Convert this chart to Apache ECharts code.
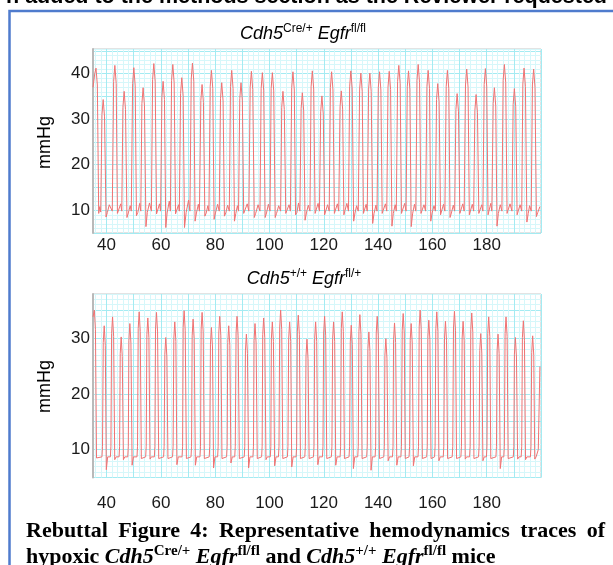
<!DOCTYPE html>
<html>
<head>
<meta charset="utf-8">
<title>hemodynamics traces</title>
<script src="https://cdn.jsdelivr.net/npm/echarts@6/dist/echarts.min.js"></script>
<style>
  html, body { margin: 0; padding: 0; background: #fff; }
  #chart { width: 613px; height: 565px; }
</style>
</head>
<body>
<div id="chart"></div>
<script>
// [time, mmHg]
var topTrace = [
  [35.0,37.0],[35.65,40.0],[36.1,41.2],[36.6,37.5],[37.1,9.3],[37.5,10.8],[37.85,9.6],
  [38.3,31.0],[38.75,34.3],[39.25,30.5],[39.8,8.5],[40.3,9.5],[41.0,11.2],[42.1,9.8],
  [42.6,38.3],[43.05,41.8],[43.55,37.8],[44.0,9.3],[44.5,9.5],[45.2,11.4],[45.6,9.8],
  [46.02,32.6],[46.47,36.1],[46.97,32.1],[47.5,8.4],[48.0,9.4],[48.7,11.0],[49.1,9.8],
  [49.59,37.8],[50.04,41.3],[50.54,37.3],[51.0,8.8],[51.5,9.5],[52.2,11.5],[52.6,9.8],
  [53.01,33.4],[53.46,36.9],[53.96,32.9],[54.5,6.4],[55.0,9.5],[55.8,11.6],[56.5,9.8],
  [56.95,38.7],[57.4,42.2],[57.9,38.2],[58.4,9.2],[58.9,9.5],[59.5,11.4],[59.9,9.8],
  [60.37,34.8],[60.82,38.3],[61.32,34.3],[61.8,6.2],[62.3,9.4],[63.1,12.0],[63.5,9.8],
  [63.94,38.5],[64.39,42.0],[64.89,38.0],[65.4,9.2],[65.9,9.4],[66.5,11.2],[66.8,9.8],
  [67.25,35.6],[67.7,39.1],[68.2,35.1],[68.7,6.2],[69.3,9.5],[70.2,12.2],[70.7,9.8],
  [71.18,38.8],[71.63,42.3],[72.13,38.3],[72.6,7.6],[73.1,9.4],[73.8,11.3],[74.2,9.8],
  [74.72,34.1],[75.17,37.6],[75.67,33.6],[76.2,8.7],[76.7,9.4],[77.3,11.0],[77.7,9.8],
  [78.17,37.2],[78.62,40.7],[79.12,36.7],[79.6,8.0],[80.1,9.4],[80.9,11.3],[81.5,9.8],
  [81.96,34.5],[82.41,38.0],[82.91,34.0],[83.4,8.7],[83.9,9.4],[84.6,11.1],[85.2,9.8],
  [85.64,37.2],[86.09,40.7],[86.59,36.7],[87.1,7.6],[87.6,9.3],[88.2,11.0],[88.6,9.8],
  [89.06,34.5],[89.51,38.0],[90.01,34.0],[90.5,9.3],[91.0,9.5],[91.8,11.4],[92.4,9.8],
  [92.89,37.0],[93.34,40.5],[93.84,36.5],[94.4,8.4],[94.9,9.3],[95.8,11.2],[96.5,9.8],
  [96.93,36.7],[97.38,40.2],[97.88,36.2],[98.4,8.4],[98.9,9.4],[99.6,11.3],[100.2,9.8],
  [100.61,36.7],[101.06,40.2],[101.56,36.2],[102.1,8.4],[102.6,9.3],[103.4,11.0],[104.1,9.8],
  [104.51,32.6],[104.96,36.1],[105.46,32.1],[106.0,9.3],[106.5,9.5],[107.2,11.2],[107.7,9.8],
  [108.19,36.9],[108.64,40.4],[109.14,36.4],[109.6,9.0],[110.1,9.5],[110.7,11.6],[111.2,9.8],
  [111.65,32.3],[112.1,35.8],[112.6,31.8],[113.1,7.8],[113.6,9.4],[114.3,11.1],[114.9,9.8],
  [115.33,37.1],[115.78,40.6],[116.28,36.6],[116.8,9.3],[117.3,9.5],[117.9,11.5],[118.4,9.8],
  [118.86,31.6],[119.31,35.1],[119.81,31.1],[120.3,9.0],[120.8,9.4],[121.4,11.2],[122.0,9.8],
  [122.43,36.9],[122.88,40.4],[123.38,36.4],[123.9,9.3],[124.4,9.5],[125.0,11.4],[125.5,9.8],
  [125.99,32.7],[126.44,36.2],[126.94,32.2],[127.4,9.0],[127.9,9.4],[128.5,11.5],[129.1,9.8],
  [129.52,37.1],[129.97,40.6],[130.47,36.6],[131.0,7.6],[131.5,9.4],[132.1,11.0],[132.7,9.8],
  [133.2,36.6],[133.65,40.1],[134.15,36.1],[134.6,9.3],[135.1,9.5],[135.6,11.3],[136.0,9.8],
  [136.51,36.6],[136.96,40.1],[137.46,36.1],[138.0,7.1],[138.5,9.3],[139.2,11.1],[139.6,9.8],
  [140.08,36.9],[140.53,40.4],[141.03,36.4],[141.5,9.3],[142.0,9.5],[142.7,11.4],[143.2,9.8],
  [143.65,37.0],[144.1,40.5],[144.6,36.5],[145.1,6.5],[145.6,9.3],[146.3,11.2],[146.7,9.8],
  [147.18,38.3],[147.63,41.8],[148.13,37.8],[148.6,9.3],[149.1,9.5],[149.8,11.5],[150.3,9.8],
  [150.75,37.1],[151.2,40.6],[151.7,36.6],[152.2,6.4],[152.7,9.2],[153.4,11.3],[153.9,9.8],
  [154.32,38.5],[154.77,42.0],[155.27,38.0],[155.8,9.3],[156.3,9.5],[156.9,11.2],[157.5,9.8],
  [157.99,37.2],[158.44,40.7],[158.94,36.7],[159.4,7.6],[159.9,9.4],[160.6,11.0],[161.1,9.8],
  [161.52,34.3],[161.97,37.8],[162.47,33.8],[163.0,9.0],[163.5,9.4],[164.1,11.3],[164.6,9.8],
  [165.09,37.2],[165.54,40.7],[166.04,36.7],[166.5,8.4],[167.0,9.4],[167.7,11.1],[168.2,9.8],
  [168.66,32.1],[169.11,35.6],[169.61,31.6],[170.1,9.3],[170.6,9.5],[171.2,11.4],[171.7,9.8],
  [172.19,37.5],[172.64,41.0],[173.14,37.0],[173.6,9.0],[174.1,9.4],[174.7,11.3],[175.2,9.8],
  [175.65,31.9],[176.1,35.4],[176.6,31.4],[177.1,9.3],[177.6,9.5],[178.2,11.2],[178.6,9.8],
  [179.07,37.6],[179.52,41.1],[180.02,37.1],[180.5,9.0],[181.0,9.4],[181.5,11.5],[181.9,9.8],
  [182.38,33.4],[182.83,36.9],[183.33,32.9],[183.8,6.5],[184.3,9.3],[185.0,11.2],[185.6,9.8],
  [186.06,38.5],[186.51,42.0],[187.01,38.0],[187.5,9.3],[188.0,9.5],[188.6,11.4],[189.3,9.8],
  [189.74,33.2],[190.19,36.7],[190.69,32.7],[191.2,9.0],[191.7,9.4],[192.3,11.2],[192.9,9.8],
  [193.31,37.7],[193.76,41.2],[194.26,37.2],[194.8,7.4],[195.3,9.3],[195.8,11.0],[196.4,9.8],
  [196.84,37.5],[197.29,41.0],[197.79,37.0],[198.3,8.6],[198.8,9.5],[199.6,10.8]
];

var bottomTrace = [
  [35.0,33.8],[35.5,35.0],[35.9,31.5],[36.3,8.5],[36.8,8.7],[38.3,8.7],[38.5,10.6],
  [38.78,29.2],[39.13,32.2],[39.53,28.7],[39.9,6.4],[40.4,8.7],[41.4,8.7],[41.6,10.6],
  [41.85,30.8],[42.2,33.8],[42.6,30.3],[43.0,8.2],[43.5,8.7],[44.6,8.7],[44.8,10.6],
  [45.03,27.2],[45.38,30.2],[45.78,26.7],[46.2,8.2],[46.7,8.7],[47.8,8.7],[48.0,10.6],
  [48.22,29.6],[48.57,32.6],[48.97,29.1],[49.4,7.2],[49.9,8.7],[51.2,8.7],[51.4,10.6],
  [51.65,31.7],[52.0,34.7],[52.4,31.2],[52.8,8.4],[53.3,8.7],[54.4,8.7],[54.6,10.6],
  [54.84,30.6],[55.19,33.6],[55.59,30.1],[56.0,8.3],[56.5,8.7],[57.6,8.7],[57.8,10.6],
  [58.03,31.6],[58.38,34.6],[58.78,31.1],[59.2,8.4],[59.7,8.7],[61.0,8.7],[61.2,10.6],
  [61.46,27.1],[61.81,30.1],[62.21,26.6],[62.6,8.4],[63.1,8.7],[64.3,8.7],[64.5,10.6],
  [64.77,29.9],[65.12,32.9],[65.52,29.4],[65.9,7.3],[66.4,8.7],[67.8,8.7],[68.0,10.6],
  [68.21,31.9],[68.56,34.9],[68.96,31.4],[69.4,8.4],[69.9,8.7],[71.1,8.7],[71.3,10.6],
  [71.52,30.4],[71.87,33.4],[72.27,29.9],[72.7,7.2],[73.2,8.7],[74.4,8.7],[74.6,10.6],
  [74.83,31.6],[75.18,34.6],[75.58,31.1],[76.0,8.4],[76.5,8.7],[77.8,8.7],[78.0,10.6],
  [78.26,28.9],[78.61,31.9],[79.01,28.4],[79.4,6.7],[79.9,8.7],[80.9,8.7],[81.1,10.6],
  [81.33,30.9],[81.68,33.9],[82.08,30.4],[82.5,8.4],[83.0,8.7],[84.2,8.7],[84.4,10.6],
  [84.64,29.2],[84.99,32.2],[85.39,28.7],[85.8,7.6],[86.3,8.7],[87.2,8.7],[87.4,10.6],
  [87.7,30.9],[88.05,33.9],[88.45,30.4],[88.9,8.4],[89.4,8.7],[90.7,8.7],[90.9,10.6],
  [91.14,27.7],[91.49,30.7],[91.89,27.2],[92.3,6.7],[92.8,8.7],[93.9,8.7],[94.1,10.6],
  [94.32,29.6],[94.67,32.6],[95.07,29.1],[95.5,8.4],[96.0,8.7],[97.1,8.7],[97.3,10.6],
  [97.51,30.6],[97.86,33.6],[98.26,30.1],[98.7,8.2],[99.2,8.7],[100.3,8.7],[100.5,10.6],
  [100.7,29.9],[101.05,32.9],[101.45,29.4],[101.9,7.1],[102.4,8.7],[103.3,8.7],[103.5,10.6],
  [103.76,32.0],[104.11,35.0],[104.51,31.5],[104.9,8.4],[105.4,8.7],[106.6,8.7],[106.8,10.6],
  [107.07,29.9],[107.42,32.9],[107.82,29.4],[108.2,6.9],[108.7,8.7],[109.8,8.7],[110.0,10.6],
  [110.26,31.1],[110.61,34.1],[111.01,30.6],[111.4,8.4],[111.9,8.7],[113.0,8.7],[113.2,10.6],
  [113.45,26.8],[113.8,29.8],[114.2,26.3],[114.6,8.4],[115.1,8.7],[116.2,8.7],[116.4,10.6],
  [116.64,29.9],[116.99,32.9],[117.39,29.4],[117.8,7.3],[118.3,8.7],[119.5,8.7],[119.7,10.6],
  [119.95,30.9],[120.3,33.9],[120.7,30.4],[121.1,8.4],[121.6,8.7],[122.8,8.7],[123.0,10.6],
  [123.26,29.9],[123.61,32.9],[124.01,29.4],[124.4,7.2],[124.9,8.7],[126.0,8.7],[126.2,10.6],
  [126.45,31.7],[126.8,34.7],[127.2,31.2],[127.6,8.4],[128.1,8.7],[129.3,8.7],[129.5,10.6],
  [129.76,29.3],[130.11,32.3],[130.51,28.8],[130.9,6.6],[131.4,8.7],[132.5,8.7],[132.7,10.6],
  [132.94,31.2],[133.29,34.2],[133.69,30.7],[134.1,8.4],[134.6,8.7],[135.8,8.7],[136.0,10.6],
  [136.25,28.1],[136.6,31.1],[137.0,27.6],[137.4,6.3],[137.9,8.7],[138.9,8.7],[139.1,10.6],
  [139.32,30.9],[139.67,33.9],[140.07,30.4],[140.5,8.4],[141.0,8.7],[142.1,8.7],[142.3,10.6],
  [142.51,26.9],[142.86,29.9],[143.26,26.4],[143.7,8.0],[144.2,8.7],[145.3,8.7],[145.5,10.6],
  [145.7,29.7],[146.05,32.7],[146.45,29.2],[146.9,7.2],[147.4,8.7],[148.4,8.7],[148.6,10.6],
  [148.89,31.4],[149.24,34.4],[149.64,30.9],[150.0,8.4],[150.5,8.7],[151.4,8.7],[151.6,10.6],
  [151.83,29.6],[152.18,32.6],[152.58,29.1],[153.0,7.1],[153.5,8.7],[154.7,8.7],[154.9,10.6],
  [155.14,32.0],[155.49,35.0],[155.89,31.5],[156.3,8.4],[156.8,8.7],[157.9,8.7],[158.1,10.6],
  [158.33,30.2],[158.68,33.2],[159.08,29.7],[159.5,8.4],[160.0,8.7],[160.8,8.7],[161.0,10.6],
  [161.27,31.7],[161.62,34.7],[162.02,31.2],[162.4,8.0],[162.9,8.7],[164.0,8.7],[164.2,10.6],
  [164.46,30.0],[164.81,33.0],[165.21,29.5],[165.6,8.4],[166.1,8.7],[167.3,8.7],[167.5,10.6],
  [167.77,31.8],[168.12,34.8],[168.52,31.3],[168.9,8.4],[169.4,8.7],[170.5,8.7],[170.7,10.6],
  [170.96,30.0],[171.31,33.0],[171.71,29.5],[172.1,8.3],[172.6,8.7],[173.7,8.7],[173.9,10.6],
  [174.14,31.5],[174.49,34.5],[174.89,31.0],[175.3,8.4],[175.8,8.7],[177.0,8.7],[177.2,10.6],
  [177.45,27.8],[177.8,30.8],[178.2,27.3],[178.6,8.0],[179.1,8.7],[179.9,8.7],[180.1,10.6],
  [180.39,30.8],[180.74,33.8],[181.14,30.3],[181.5,8.4],[182.0,8.7],[183.4,8.7],[183.6,10.6],
  [183.83,27.7],[184.18,30.7],[184.58,27.2],[185.0,6.6],[185.5,8.7],[186.3,8.7],[186.5,10.6],
  [186.77,30.8],[187.12,33.8],[187.52,30.3],[187.9,8.4],[188.4,8.7],[189.8,8.7],[190.0,10.6],
  [190.21,27.1],[190.56,30.1],[190.96,26.6],[191.4,8.3],[191.9,8.7],[192.7,8.7],[192.9,10.6],
  [193.15,30.1],[193.5,33.1],[193.9,29.6],[194.3,8.2],[194.8,8.7],[196.1,8.7],[196.3,10.6],
  [196.58,27.4],[196.93,30.4],[197.33,26.9],[197.7,8.3],[198.2,8.7],[198.8,8.7],[199.0,10.0],[199.6,24.9]
];

var xTickLabels = [40, 60, 80, 100, 120, 140, 160, 180];
var topYTickLabels = [10, 20, 30, 40];
var bottomYTickLabels = [10, 20, 30];

var headerText = 'n added to the methods section as the Reviewer requested';
var captionLine1 = ['Rebuttal', 'Figure', '4:', 'Representative', 'hemodynamics', 'traces', 'of'];

var SANS = '"Liberation Sans", Arial, Helvetica, sans-serif';
var SERIF = '"Liberation Serif", "Times New Roman", serif';
var MINOR = '#d6f7fa';
var MAJOR = '#a4ebf2';
var NONE = 'rgba(0,0,0,0)';

// ticks every 1 from min 35 -> minor line every 2 s, major every 10 s
var xGridColors = [NONE, MINOR, NONE, MINOR, NONE, MAJOR, NONE, MINOR, NONE, MINOR];
// ticks every 1 from min 5 -> major every 5 mmHg
var yGridColors = [MAJOR, MINOR, MINOR, MINOR, MINOR];

function pick(list) {
  return function (v) {
    var r = Math.round(v);
    return (Math.abs(v - r) < 1e-6 && list.indexOf(r) >= 0) ? String(r) : '';
  };
}

function xAxisFor(idx, margin) {
  return {
    gridIndex: idx, type: 'value', min: 35, max: 200, interval: 1,
    axisLine: { show: false }, axisTick: { show: false },
    splitLine: { show: true, lineStyle: { color: xGridColors, width: 1 } },
    axisLabel: { formatter: pick(xTickLabels), margin: margin, color: '#1a1a1a', fontSize: 17, fontFamily: SANS }
  };
}

function yAxisFor(idx, max, labels) {
  return {
    gridIndex: idx, type: 'value', min: 5, max: max, interval: 1,
    axisLine: { show: true, lineStyle: { color: '#b9b9b9', width: 2 } },
    axisTick: { show: false },
    splitLine: { show: true, lineStyle: { color: yGridColors, width: 1 } },
    axisLabel: { formatter: pick(labels), margin: 3, padding: [4, 0, 0, 0], color: '#1a1a1a', fontSize: 17, fontFamily: SANS }
  };
}

// justify first caption line between x=26 and x=605
var ctx = document.createElement('canvas').getContext('2d');
ctx.font = 'bold 22px "Liberation Serif"';
var wordW = captionLine1.map(function (w) { return ctx.measureText(w).width; });
var sumW = wordW.reduce(function (a, b) { return a + b; }, 0);
var gap = (605 - 26 - sumW) / (captionLine1.length - 1);
var captionWords = [];
var cx = 26;
captionLine1.forEach(function (w, i) {
  captionWords.push({
    type: 'text', x: cx, y: 531,
    style: { text: w, font: 'bold 22px ' + SERIF, fill: '#000', align: 'left', verticalAlign: 'middle' }
  });
  cx += wordW[i] + gap;
});

var titleRich = {
  i: { fontStyle: 'italic', fontSize: 18, fontFamily: SANS, lineHeight: 22, color: '#000' },
  s: { fontSize: 12, fontFamily: SANS, lineHeight: 12, verticalAlign: 'top', color: '#000' }
};
var capRich = {
  b: { fontWeight: 'bold', fontSize: 22, fontFamily: SERIF, lineHeight: 27, color: '#000' },
  bi: { fontWeight: 'bold', fontStyle: 'italic', fontSize: 22, fontFamily: SERIF, lineHeight: 27, color: '#000' },
  s: { fontWeight: 'bold', fontSize: 15, fontFamily: SERIF, lineHeight: 15, verticalAlign: 'top', color: '#000' }
};

var myChart = echarts.init(document.getElementById('chart'), null, { renderer: 'canvas' });
var option = {
  backgroundColor: '#fff',
  animation: false,
  grid: [
    { left: 93, top: 49, width: 448, height: 184, show: true, borderColor: '#c6c6c6', borderWidth: 1, backgroundColor: '#fff' },
    { left: 93, top: 294, width: 448, height: 183.5, show: true, borderColor: '#c6c6c6', borderWidth: 1, backgroundColor: '#fff' }
  ],
  xAxis: [xAxisFor(0, 4), xAxisFor(1, 17)],
  yAxis: [yAxisFor(0, 45.4, topYTickLabels), yAxisFor(1, 37.9, bottomYTickLabels)],
  series: [
    {
      type: 'line', xAxisIndex: 0, yAxisIndex: 0, data: topTrace,
      showSymbol: false, symbol: 'none', silent: true,
      lineStyle: { color: '#f07272', width: 1 }
    },
    {
      type: 'line', xAxisIndex: 1, yAxisIndex: 1, data: bottomTrace,
      showSymbol: false, symbol: 'none', silent: true,
      lineStyle: { color: '#f07272', width: 1 }
    }
  ],
  graphic: [
    {
      type: 'text', x: 607, y: -2.5,
      style: { text: headerText, font: 'bold 21.5px ' + SANS, fill: '#000', align: 'right', verticalAlign: 'middle' }
    },
    {
      type: 'rect', shape: { x: 9.5, y: 11, width: 700, height: 700 },
      style: { fill: 'none', stroke: '#4f7bcd', lineWidth: 2.5 }
    },
    {
      type: 'text', x: 303, y: 34,
      style: { text: '{i|Cdh5}{s|Cre/+}{i| Egfr}{s|fl/fl}', rich: titleRich, align: 'center', verticalAlign: 'middle' }
    },
    {
      type: 'text', x: 304, y: 279,
      style: { text: '{i|Cdh5}{s|+/+}{i| Egfr}{s|fl/+}', rich: titleRich, align: 'center', verticalAlign: 'middle' }
    },
    {
      type: 'text', x: 45, y: 142.5, rotation: Math.PI / 2,
      style: { text: 'mmHg', font: '18px ' + SANS, fill: '#000', align: 'center', verticalAlign: 'middle' }
    },
    {
      type: 'text', x: 45, y: 386.5, rotation: Math.PI / 2,
      style: { text: 'mmHg', font: '18px ' + SANS, fill: '#000', align: 'center', verticalAlign: 'middle' }
    },
    {
      type: 'text', x: 26, y: 557,
      style: {
        text: '{b|hypoxic }{bi|Cdh5}{s|Cre/+}{b| }{bi|Egfr}{s|fl/fl}{b| and }{bi|Cdh5}{s|+/+}{b| }{bi|Egfr}{s|fl/fl}{b| mice}',
        rich: capRich, align: 'left', verticalAlign: 'middle'
      }
    }
  ].concat(captionWords)
};
myChart.setOption(option);
</script>
</body>
</html>
